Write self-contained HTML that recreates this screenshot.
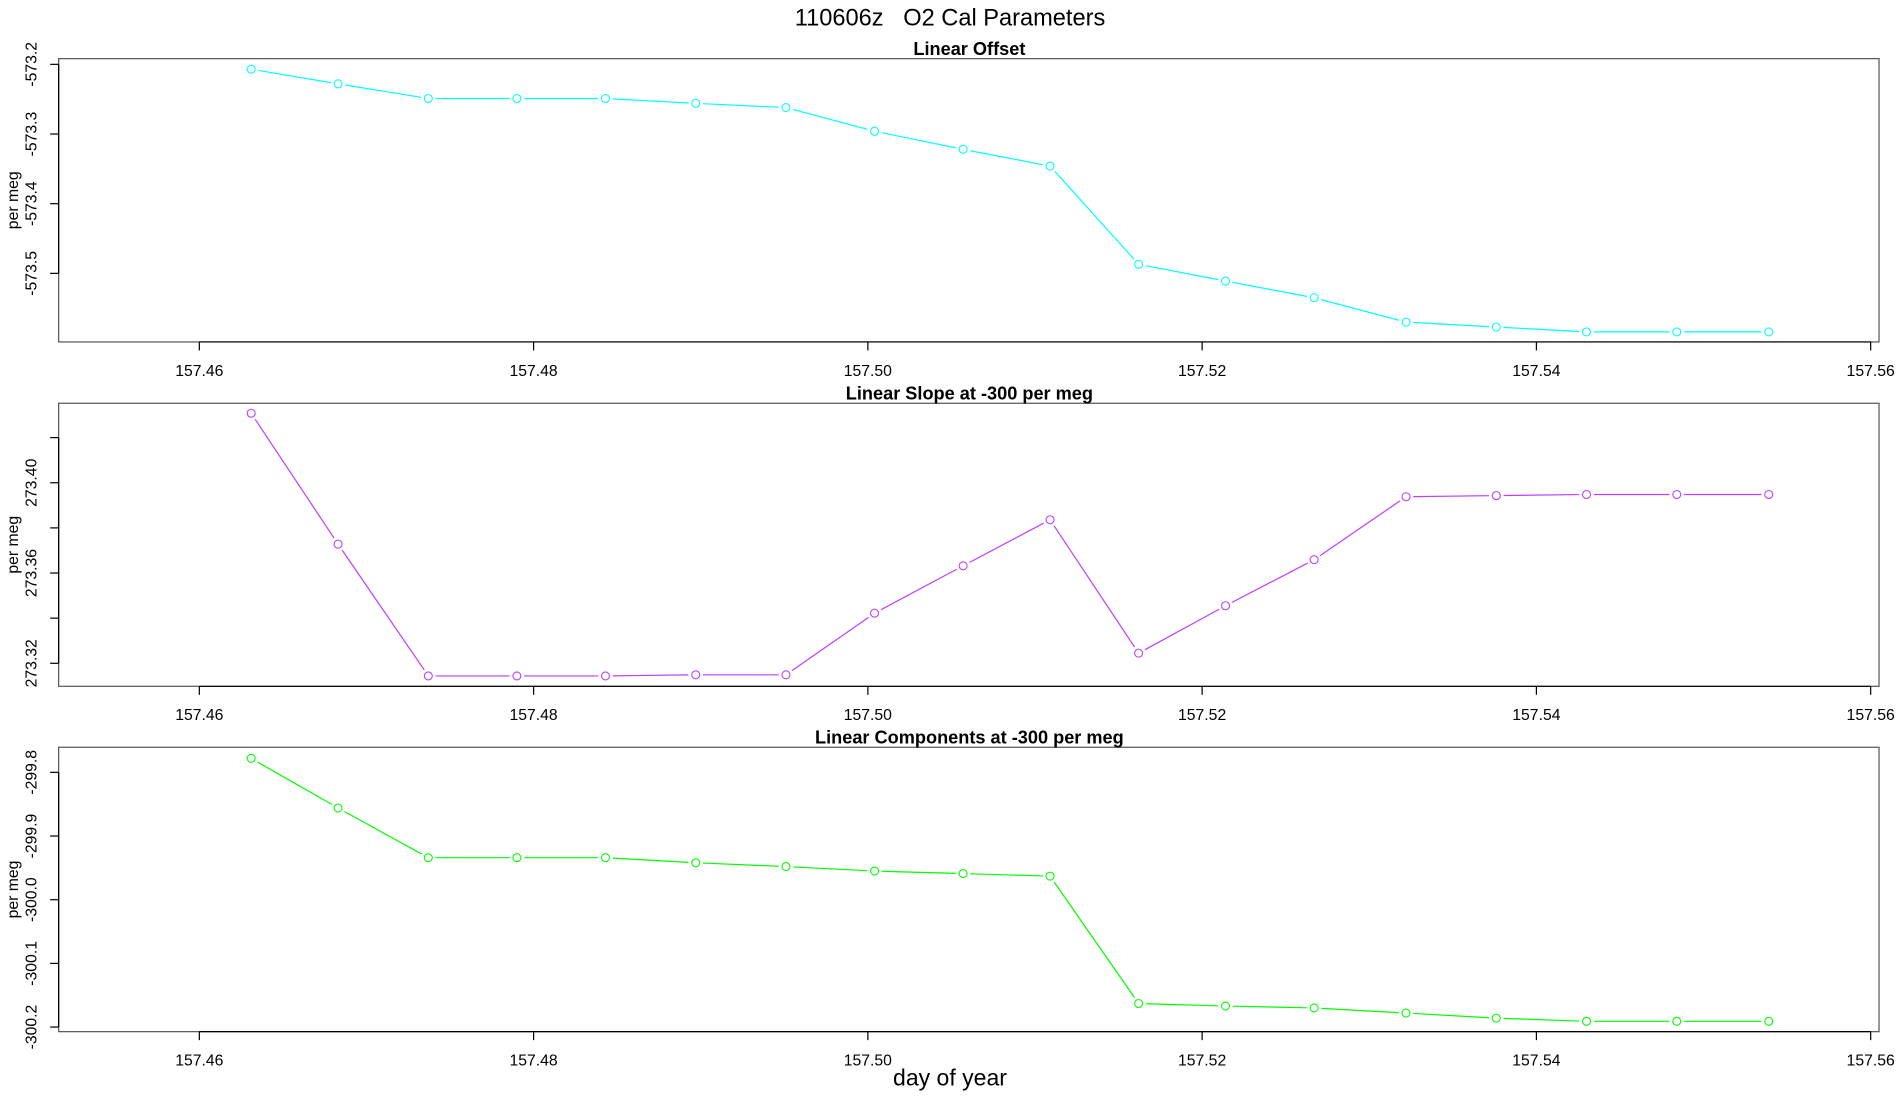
<!DOCTYPE html>
<html><head><meta charset="utf-8">
<style>
html,body{margin:0;padding:0;background:#fff;}
svg{display:block;font-family:"Liberation Sans",Arial,sans-serif;}
</style></head>
<body>
<svg id="chart" width="1900" height="1100" viewBox="0 0 1568 907.8" xmlns="http://www.w3.org/2000/svg">
<text x="784" y="21" font-size="19.5" text-anchor="middle" fill="#000" style="white-space:pre">110606z   O2 Cal Parameters</text>
<text x="784" y="896" font-size="19" text-anchor="middle" fill="#000">day of year</text>
<g id="panels"></g>
</svg>
<script>
// shared x data (day of year)
const days = [157.4631,157.4683,157.4737,157.4790,157.4843,157.4897,157.4951,157.5004,157.5057,157.5109,157.5162,157.5214,157.5267,157.5322,157.5376,157.5430,157.5484,157.5539];
const xTicks = [157.46,157.48,157.50,157.52,157.54,157.56];
const xTickLabels = ["157.46","157.48","157.50","157.52","157.54","157.56"];
// panel 1: Linear Offset
const offsetValues = [-573.207,-573.228,-573.249,-573.249,-573.249,-573.256,-573.262,-573.296,-573.322,-573.346,-573.487,-573.511,-573.535,-573.570,-573.577,-573.584,-573.584,-573.584];
const offsetTicks = [-573.2,-573.3,-573.4,-573.5];
const offsetTickLabels = ["-573.2","-573.3","-573.4","-573.5"];
// panel 2: Linear Slope
const slopeValues = [273.4308,273.3728,273.3144,273.3144,273.3144,273.3149,273.3149,273.3422,273.3632,273.3836,273.3245,273.3455,273.3659,273.3938,273.3943,273.3948,273.3948,273.3948];
const slopeTicks = [273.32,273.34,273.36,273.38,273.40,273.42];
const slopeTickLabels = ["273.32","","273.36","","273.40",""];
// panel 3: Linear Components
const compValues = [-299.778,-299.856,-299.934,-299.934,-299.934,-299.942,-299.948,-299.955,-299.959,-299.963,-300.163,-300.167,-300.170,-300.178,-300.186,-300.191,-300.191,-300.191];
const compTicks = [-299.8,-299.9,-300.0,-300.1,-300.2];
const compTickLabels = ["-299.8","-299.9","-300.0","-300.1","-300.2"];

const NS = "http://www.w3.org/2000/svg";
const L = 48.4, R = 1550.7;
function xScale(d){ return 164.5 + (d - 157.46) * 13793; }

const panels = [
  {name:"linear-offset", title:"Linear Offset", top:48.4, bottom:282.2, vals:offsetValues, ticks:offsetTicks, labels:offsetTickLabels, color:"#00ffff", v0:-573.2, y0:53.1, v1:-573.5, y1:225.6},
  {name:"linear-slope", title:"Linear Slope at -300 per meg", top:332.8, bottom:566.4, vals:slopeValues, ticks:slopeTicks, labels:slopeTickLabels, color:"#bf3eff", v0:273.40, y0:398.4, v1:273.32, y1:547.4},
  {name:"linear-components", title:"Linear Components at -300 per meg", top:616.7, bottom:851.4, vals:compValues, ticks:compTicks, labels:compTickLabels, color:"#00ff00", v0:-299.8, y0:637.4, v1:-300.2, y1:847.6}
];
const root = document.getElementById('panels');
function mk(tag, attrs, parent){ const e=document.createElementNS(NS,tag); for(const k in attrs) e.setAttribute(k,attrs[k]); parent.appendChild(e); return e; }

panels.forEach(p=>{
  const g = mk('g',{},root);
  
  
  const yScale = v => p.y0 + (v - p.v0) * (p.y1 - p.y0) / (p.v1 - p.v0);
  const box = mk('rect',{x:L,y:p.top,width:R-L,height:p.bottom-p.top,fill:"none",stroke:"#555","stroke-width":1},g);
  
  
  const t = mk('text',{x:800,y:p.top-3,"font-size":15,"font-weight":"bold","text-anchor":"middle",fill:"#000"},g);
  t.textContent = p.title;
  
  
  // x axis
  const xa = mk('g',{},g);
  
  
  mk('line',{x1:xScale(xTicks[0]),x2:xScale(xTicks[xTicks.length-1]),y1:p.bottom,y2:p.bottom,stroke:"#000","stroke-width":1},xa);
  xTicks.forEach((v,i)=>{
    const x=xScale(v);
    mk('line',{x1:x,x2:x,y1:p.bottom,y2:p.bottom+7,stroke:"#000","stroke-width":1},xa);
    const tl=mk('text',{x:x,y:p.bottom+28,"font-size":13,"text-anchor":"middle",fill:"#000"},xa);
    tl.textContent=xTickLabels[i];
    
    
  });
  // y axis
  const ya = mk('g',{},g);
  
  
  mk('line',{x1:L,x2:L,y1:yScale(p.ticks[0]),y2:yScale(p.ticks[p.ticks.length-1]),stroke:"#000","stroke-width":1},ya);
  p.ticks.forEach((v,i)=>{
    const y=yScale(v);
    mk('line',{x1:L-7,x2:L,y1:y,y2:y,stroke:"#000","stroke-width":1},ya);
    if(p.labels[i]){
      const tl=mk('text',{x:0,y:0,"font-size":13,"text-anchor":"middle",fill:"#000",transform:`translate(30,${y}) rotate(-90)`},ya);
      tl.textContent=p.labels[i];
      
      
    }
  });
  const yt=mk('text',{x:0,y:0,"font-size":13,"text-anchor":"middle",fill:"#000",transform:`translate(15,${(p.top+p.bottom)/2}) rotate(-90)`},g);
  yt.textContent="per meg";
  
  
  // series line with gaps around points (type="b")
  const s = mk('g',{},g);
  
  
  const r=3.3, gap=6;
  for(let i=0;i<days.length-1;i++){
    const xa1=xScale(days[i]), ya1=yScale(p.vals[i]), xb=xScale(days[i+1]), yb=yScale(p.vals[i+1]);
    const dx=xb-xa1, dy=yb-ya1, len=Math.hypot(dx,dy);
    if(len>2*gap){
      const ux=dx/len, uy=dy/len;
      mk('line',{x1:xa1+ux*gap,y1:ya1+uy*gap,x2:xb-ux*gap,y2:yb-uy*gap,stroke:p.color,"stroke-width":1},s);
    }
  }
  days.forEach((d,i)=>{
    const c=mk('circle',{cx:xScale(d),cy:yScale(p.vals[i]),r:r,fill:"none",stroke:p.color,"stroke-width":0.9},s);
    
    
  });
});
</script>
</body></html>
